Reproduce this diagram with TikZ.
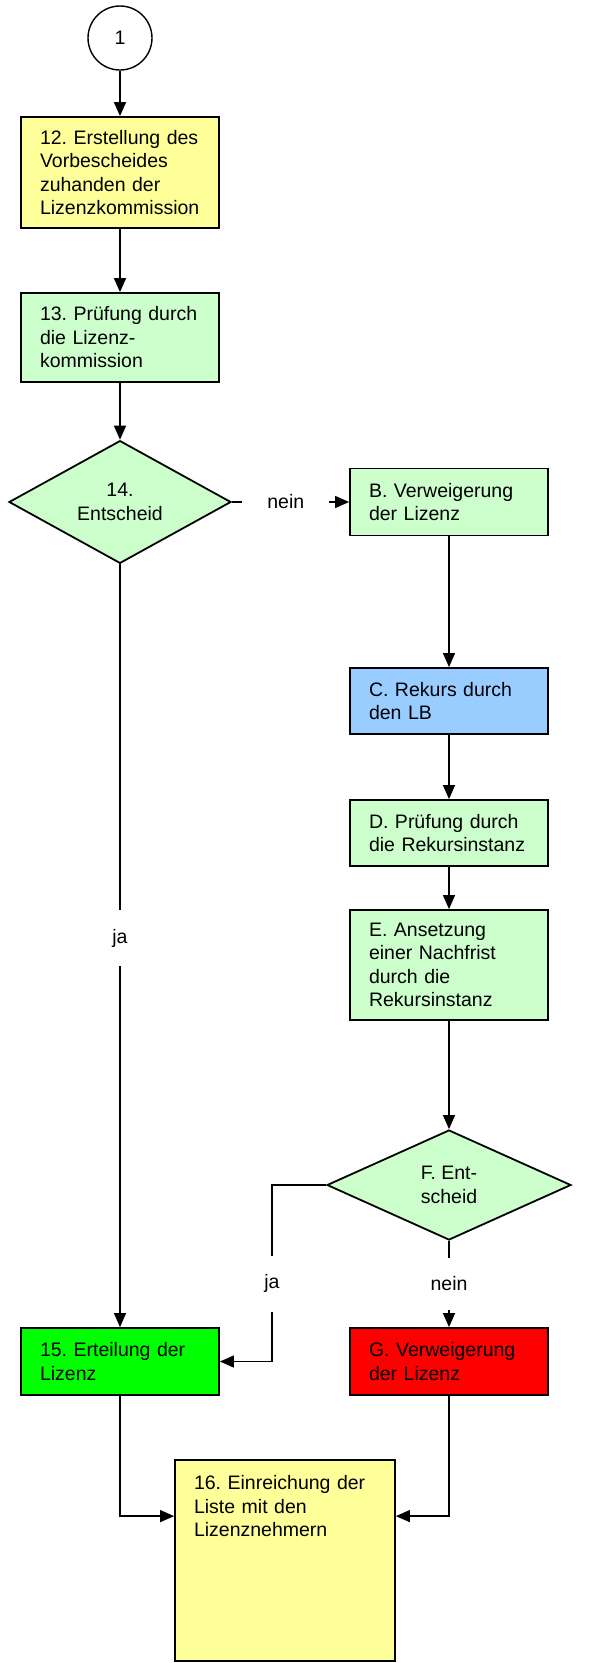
\documentclass[tikz,border=0pt]{standalone}
\usepackage{fontspec}
\setmainfont{Liberation Sans}
\usepackage[dvipsnames]{xcolor}
\usetikzlibrary{shapes.geometric,arrows.meta,calc}
\definecolor{paleyellow}{HTML}{FFFF99}
\definecolor{palegreen}{HTML}{CCFFCC}
\definecolor{paleblue}{HTML}{99CCFF}
\frenchspacing

\begin{document}
\begin{tikzpicture}[x=1pt,y=-1pt,>={Triangle[length=14pt,width=12pt]},line width=1.4pt,
  main node/.style={rectangle,draw,line width=1.8pt,font=\fontsize{19.5}{23.5}\selectfont,align=left,text width=160pt,inner xsep=19pt,inner ysep=0pt,minimum width=198pt},
  decision/.style={diamond,draw,line width=1.8pt,fill=palegreen,font=\fontsize{19.5}{23.5}\selectfont,inner sep=0pt},
  lbl/.style={fill=white,font=\fontsize{19.5}{23.5}\selectfont,inner xsep=25pt,inner ysep=19pt}]

            \useasboundingbox (0,0) rectangle (608,1663);

            \node[circle, draw, minimum size=64pt, inner sep=0pt, font=\fontsize{19.5}{23.5}\selectfont] (1) at (120,38) {1};
            \node[main node, fill=paleyellow, minimum height=111pt] (12) at (120,172.5) {12. Erstellung des\\Vorbescheides\\zuhanden der\\Lizenzkommission};
            \node[main node, fill=palegreen, minimum height=89pt] (13) at (120,337.5) {13. Prüfung durch\\die Lizenz-\\kommission};
            \node[decision, minimum width=222pt, minimum height=110pt, align=center] (14) at (120,502) {14.\\Entscheid};
            \node[main node, fill=palegreen, minimum height=67pt] (B) at (449,502) {B. Verweigerung\\der Lizenz};
            \node[main node, fill=paleblue, minimum height=66pt] (C) at (449,701) {C. Rekurs durch\\den LB};
            \node[main node, fill=palegreen, minimum height=66pt] (D) at (449,833) {D. Prüfung durch\\die Rekursinstanz};
            \node[main node, fill=palegreen, minimum height=110pt] (E) at (449,965) {E. Ansetzung\\einer Nachfrist\\durch die\\Rekursinstanz};
            \node[decision, minimum width=244pt, minimum height=110pt, align=left] (F) at (449,1185) {F. Ent-\\scheid};
            \node[main node, fill=green, minimum height=67pt] (15) at (120,1361.5) {15. Erteilung der\\Lizenz};
            \node[main node, fill=red, minimum height=67pt] (G) at (449,1361.5) {G. Verweigerung\\der Lizenz};
            \node[main node, fill=paleyellow, text width=182pt, minimum width=220pt, minimum height=201pt] (16) at (285,1560.5)
                {\parbox[t][170pt][t]{182pt}{16. Einreichung der\\Liste mit den\\Lizenznehmern}};

            \coordinate (Fja) at (272,1185);

            \draw[->] (1) -- (12);
            \draw[->] (12) -- (13);
            \draw[->] (13) -- (14);
            \draw[->] (14.east) -- node[lbl, pos=0.46] {nein} (B.west);
            \draw[->] (14) -- node[lbl, pos=0.49] {ja} (15);
            \draw[->] (B) -- (C);
            \draw[->] (C) -- (D);
            \draw[->] (D) -- (E);
            \draw[->] (E) -- (F);
            \draw[->] (F.west) -- (Fja) |- node[lbl, pos=0.28] {ja} (15.east);
            \draw[->] (F) -- node[lbl] {nein} (G);
            \draw[->] (15) |- ($(16.north west)+(0,57)$);
            \draw[->] (G) |- ($(16.north east)+(0,57)$);

            ;
        \end{tikzpicture}
\end{document}
